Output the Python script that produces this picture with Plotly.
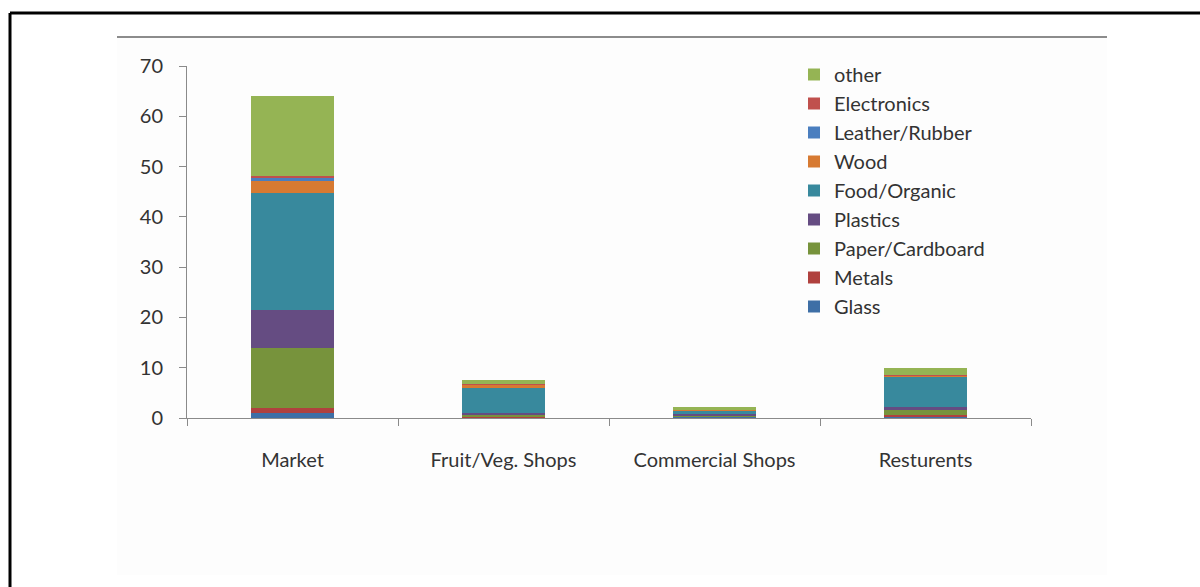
import plotly.graph_objects as go

# Waste composition by source (stacked)
categories = ["Market", "Fruit/Veg. Shops", "Commercial Shops", "Resturents"]

glass = [0.9, 0.1, 0.2, 0.2]
metals = [1.0, 0.05, 0.05, 0.4]
paper_cardboard = [12.0, 0.6, 0.3, 1.0]
plastics = [7.6, 0.2, 0.2, 0.65]
food_organic = [23.3, 5.1, 0.8, 5.85]
wood = [2.3, 0.7, 0.1, 0.45]
leather_rubber = [0.8, 0.0, 0.0, 0.0]
electronics = [0.3, 0.1, 0.0, 0.1]
other = [15.8, 0.75, 0.5, 1.35]

series = [
    ("Glass", glass, "#3E6FA6"),
    ("Metals", metals, "#B0413E"),
    ("Paper/Cardboard", paper_cardboard, "#77933C"),
    ("Plastics", plastics, "#654C82"),
    ("Food/Organic", food_organic, "#38899D"),
    ("Wood", wood, "#D77A32"),
    ("Leather/Rubber", leather_rubber, "#4A7EBF"),
    ("Electronics", electronics, "#C0504D"),
    ("other", other, "#95B454"),
]

FONT = "Lato, 'Open Sans', sans-serif"
TEXT = "#333333"
AXIS = "#8A8A8A"

fig = go.Figure()
for name, vals, color in series:
    fig.add_trace(go.Bar(
        x=categories, y=vals, name=name,
        marker=dict(color=color, line=dict(width=0)),
        width=0.395,
    ))

# plot area in pixels: x 187..1031, y 66..418
L, R, T, B = 187, 1031, 66, 418
W, H = R - L, B - T


def px(x):
    return (x - L) / W


def py(y):
    return (B - y) / H


shapes = [
    # light chart panel
    dict(type="rect", xref="paper", yref="paper", layer="below",
         x0=px(117), x1=px(1107), y0=py(575), y1=py(37),
         fillcolor="#FDFDFD", line=dict(width=0)),
    # panel top rule
    dict(type="line", xref="paper", yref="paper",
         x0=px(117), x1=px(1107), y0=py(37), y1=py(37),
         line=dict(color="#8C8C8C", width=2)),
    # page frame
    dict(type="line", xref="paper", yref="paper",
         x0=px(10), x1=px(10), y0=py(13), y1=py(600),
         line=dict(color="#000000", width=3)),
    dict(type="line", xref="paper", yref="paper",
         x0=px(10), x1=px(1210), y0=py(13), y1=py(13),
         line=dict(color="#000000", width=3)),
]

fig.update_layout(
    barmode="stack",
    width=1200, height=587,
    margin=dict(l=L, r=1200 - R, t=T, b=587 - B, pad=0),
    paper_bgcolor="white",
    plot_bgcolor="rgba(0,0,0,0)",
    font=dict(family=FONT, size=20, color=TEXT),
    shapes=shapes,
    showlegend=True,
    legend=dict(
        traceorder="reversed",
        x=px(794), y=py(55), xanchor="left", yanchor="top",
        bgcolor="rgba(0,0,0,0)",
        font=dict(family=FONT, size=20, color=TEXT),
        itemwidth=30,
    ),
    bargap=0.6,
)

fig.update_yaxes(
    range=[0, 70], dtick=10, showgrid=False, zeroline=False,
    showline=True, linecolor=AXIS, linewidth=1,
    ticks="outside", ticklen=7, tickcolor=AXIS,
    ticklabelstandoff=12,
    tickfont=dict(family=FONT, size=20, color=TEXT),
)
fig.update_xaxes(
    showgrid=False, showline=True, linecolor=AXIS, linewidth=1,
    ticks="outside", ticklen=7, tickcolor=AXIS, tickson="boundaries",
    ticklabelstandoff=24,
    tickfont=dict(family=FONT, size=20, color=TEXT),
)

fig.write_html("out.html")
